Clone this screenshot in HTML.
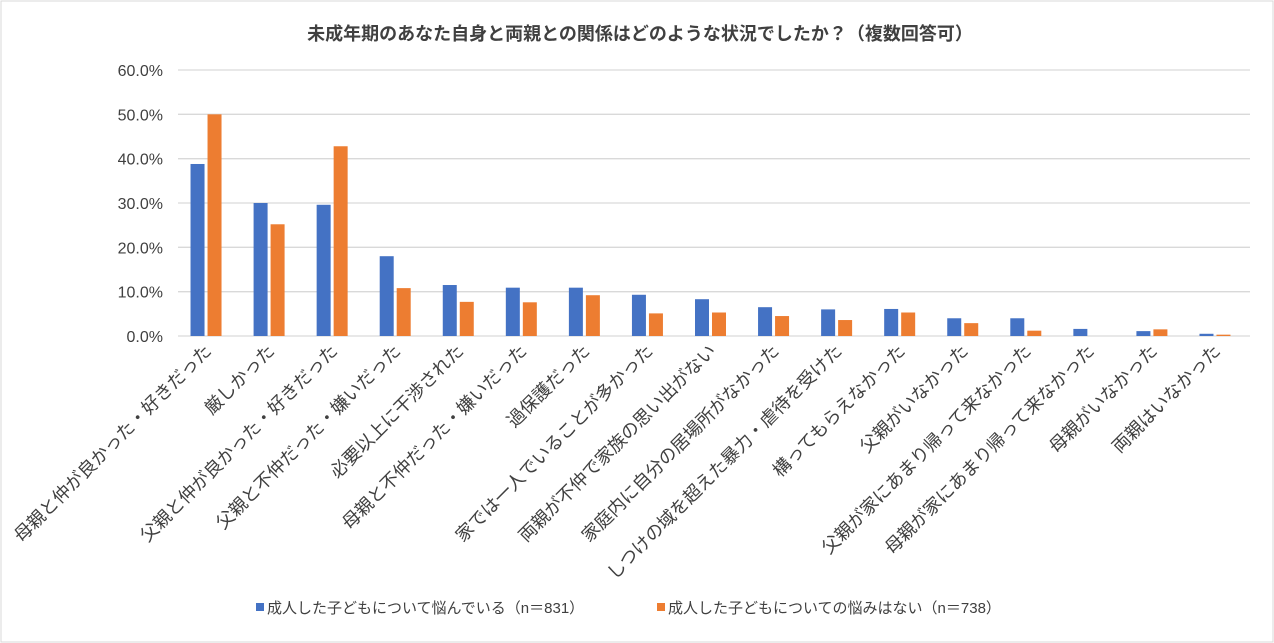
<!DOCTYPE html>
<html><head><meta charset="utf-8"><style>
body{margin:0;background:#fff}
svg{display:block;font-family:"Liberation Sans","Noto Sans CJK JP",sans-serif}
</style></head><body>
<svg id="c" width="1274" height="643">
<rect x="1" y="1" width="1272" height="641" fill="#fff" stroke="#d9d9d9"/>
<text x="640" y="40" text-anchor="middle" font-size="18" font-weight="600" fill="#404040">未成年期のあなた自身と両親との関係はどのような状況でしたか？（複数回答可）</text>
<g id="grid"></g><g id="bars"></g><g id="labels"></g>
<g>
<rect x="256" y="603" width="8" height="8" fill="#4472c4"/>
<text x="267" y="613" font-size="15" fill="#404040">成人した子どもについて悩んでいる（n＝831）</text>
<rect x="657" y="603" width="8" height="8" fill="#ed7d31"/>
<text x="668" y="613" font-size="15" fill="#404040">成人した子どもについての悩みはない（n＝738）</text>
</g>
</svg>
<script>
const categories=["母親と仲が良かった・好きだった","厳しかった","父親と仲が良かった・好きだった","父親と不仲だった・嫌いだった","必要以上に干渉された","母親と不仲だった・嫌いだった","過保護だった","家では一人でいることが多かった","両親が不仲で家族の思い出がない","家庭内に自分の居場所がなかった","しつけの域を超えた暴力・虐待を受けた","構ってもらえなかった","父親がいなかった","父親が家にあまり帰って来なかった","母親が家にあまり帰って来なかった","母親がいなかった","両親はいなかった"];
const worried=[38.8,30.0,29.6,18.0,11.5,10.9,10.9,9.3,8.3,6.5,6.0,6.1,4.0,4.0,1.6,1.1,0.5];
const notWorried=[50.0,25.2,42.8,10.8,7.7,7.6,9.2,5.1,5.3,4.5,3.6,5.3,2.9,1.2,0,1.5,0.3];
const ticks=[0,10,20,30,40,50,60];
const tickLabels=["0.0%","10.0%","20.0%","30.0%","40.0%","50.0%","60.0%"];
const NS="http://www.w3.org/2000/svg";
const x0=178,x1=1250,yTop=70,yBot=336;
const y=v=>yBot-(v/60)*(yBot-yTop);
const bw=(x1-x0)/categories.length;
const cx=i=>x0+bw*(i+0.5)-3;
function mk(t,a,p){const e=document.createElementNS(NS,t);for(const k in a)e.setAttribute(k,a[k]);p.appendChild(e);return e;}
const grid=document.getElementById('grid'),bars=document.getElementById('bars'),labels=document.getElementById('labels');
ticks.forEach((t,i)=>{
 const l=mk('line',{x1:x0,x2:x1,y1:y(t),y2:y(t),stroke:'#d9d9d9','stroke-width':1.3},grid);
 
 
 const tx=mk('text',{x:163,y:y(t)+6,'text-anchor':'end','font-size':16,fill:'#404040'},grid);
 tx.textContent=tickLabels[i];
 
 
});
categories.forEach((c,i)=>{
 const b1=mk('rect',{x:cx(i)-16,y:y(worried[i]),width:14,height:yBot-y(worried[i]),fill:'#4472c4'},bars);
 
 
 const b2=mk('rect',{x:cx(i)+1,y:y(notWorried[i]),width:14,height:yBot-y(notWorried[i]),fill:'#ed7d31'},bars);
 
 
 const t=mk('text',{x:cx(i)+6,y:352,'text-anchor':'end','font-size':18,fill:'#404040',transform:`rotate(-45 ${cx(i)+6} 352)`},labels);
 t.textContent=c;
 
 
});
</script>
</body></html>
